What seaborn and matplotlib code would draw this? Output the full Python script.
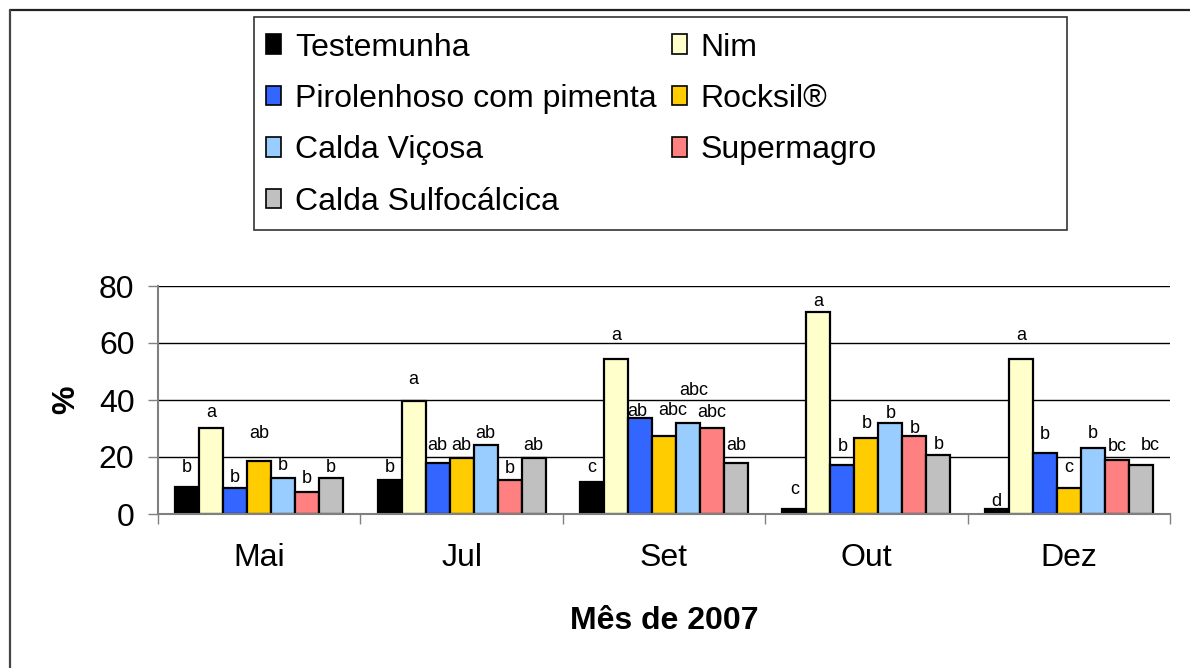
import pandas as pd
import numpy as np
import matplotlib.pyplot as plt
import seaborn as sns
from matplotlib.patches import Patch, Rectangle
from matplotlib.lines import Line2D

# ============================
# Data
# ============================

MONTHS = ["Mai", "Jul", "Set", "Out", "Dez"]

TREATMENTS = [
    "Testemunha",
    "Nim",
    "Pirolenhoso com pimenta",
    "Rocksil®",
    "Calda Viçosa",
    "Supermagro",
    "Calda Sulfocálcica",
]

testemunha = [9.5, 12.0, 11.3, 1.6, 1.6]
nim = [30.2, 39.6, 54.4, 70.8, 54.4]
pirolenhoso = [9.1, 17.8, 33.6, 17.1, 21.5]
rocksil = [18.7, 19.6, 27.5, 26.7, 9.2]
calda_vicosa = [12.7, 24.1, 31.8, 31.8, 23.2]
supermagro = [7.6, 11.8, 30.2, 27.5, 18.8]
sulfocalcica = [12.7, 19.6, 17.9, 20.6, 17.2]

letters_testemunha = ["b", "b", "c", "c", "d"]
letters_nim = ["a", "a", "a", "a", "a"]
letters_pirolenhoso = ["b", "ab", "ab", "b", "b"]
letters_rocksil = ["ab", "ab", "abc", "b", "c"]
letters_vicosa = ["b", "ab", "abc", "b", "b"]
letters_supermagro = ["b", "b", "abc", "b", "bc"]
letters_sulfocalcica = ["b", "ab", "ab", "b", "bc"]

COLORS = ["#000000", "#FFFFCC", "#3366FF", "#FFCC00", "#99CCFF", "#FF8080", "#C0C0C0"]

# how far (pixels) each letter sits above its bar, per treatment and month
LETTER_RAISE = [
    [19, 12, 14, 20, 8],
    [15, 22, 23, 11, 23],
    [11, 18, 7, 19, 18],
    [27, 13, 25, 14, 20],
    [12, 12, 33, 10, 14],
    [14, 12, 15, 7, 14],
    [10, 13, 17, 11, 19],
]
# a few letters sit a bit to the side in the original: (treatment, month) -> px
LETTER_SHIFT = {(2, 2): -3, (3, 2): 9, (4, 2): 6, (6, 4): 10}

series = [testemunha, nim, pirolenhoso, rocksil, calda_vicosa, supermagro, sulfocalcica]
letters = [letters_testemunha, letters_nim, letters_pirolenhoso, letters_rocksil,
           letters_vicosa, letters_supermagro, letters_sulfocalcica]

df = pd.DataFrame({
    "Mes": MONTHS * len(TREATMENTS),
    "Tratamento": np.repeat(TREATMENTS, len(MONTHS)),
    "Valor": np.concatenate(series),
})

# ============================
# Figure
# ============================

sns.set_style("white")
plt.rcParams["font.family"] = ["Liberation Sans", "DejaVu Sans"]
plt.rcParams["text.color"] = "black"
plt.rcParams["axes.labelcolor"] = "black"
plt.rcParams["xtick.color"] = "black"
plt.rcParams["ytick.color"] = "black"

fig = plt.figure(figsize=(11.9, 6.68), dpi=100)
ax = fig.add_axes([158 / 1190, 1 - 514 / 668, 1012 / 1190, 228 / 668])

sns.barplot(
    data=df, x="Mes", y="Valor", hue="Tratamento",
    order=MONTHS, hue_order=TREATMENTS, palette=COLORS,
    saturation=1, errorbar=None, width=0.83,
    edgecolor="black", linewidth=1.6, ax=ax, legend=False,
)

# significance letters
for i, (cont, labs, raise_px) in enumerate(zip(ax.containers, letters, LETTER_RAISE)):
    for j, (bar, lab, dy) in enumerate(zip(cont, labs, raise_px)):
        ax.annotate(
            lab,
            xy=(bar.get_x() + bar.get_width() / 2, bar.get_height()),
            xytext=(LETTER_SHIFT.get((i, j), 0), dy), textcoords="offset pixels",
            ha="center", va="center", fontsize=13, color="black",
        )

ax.set_ylim(0, 80)
ax.set_xlim(-0.5, 4.5)
ax.set_yticks([0, 20, 40, 60, 80])
ax.yaxis.grid(True, color="black", linewidth=1)
ax.set_axisbelow(True)

for side in ["top", "right"]:
    ax.spines[side].set_visible(False)
for side in ["left", "bottom"]:
    ax.spines[side].set_color("#808080")
    ax.spines[side].set_linewidth(1.5)

ax.tick_params(axis="y", left=True, length=7, width=1, color="#808080",
               labelcolor="black", pad=10, labelsize=23)
ax.tick_params(axis="x", which="major", length=0, pad=21, labelsize=23,
               labelcolor="black")
ax.set_xticks(np.arange(-0.5, 5, 1), minor=True)
ax.tick_params(axis="x", which="minor", bottom=True, length=7, width=1, color="#808080")

ax.set_xlabel("Mês de 2007", fontsize=23, fontweight="bold", color="black")
ax.xaxis.set_label_coords(0.5, -0.402)
ax.set_ylabel("%", fontsize=23, fontweight="bold", color="black")
ax.yaxis.set_label_coords(-0.076, 0.5)

# ============================
# Legend (row-wise order)
# ============================

handles = [Patch(facecolor=c, edgecolor="black", linewidth=1.2) for c in COLORS]
idx = [0, 2, 4, 6, 1, 3, 5]
fig.legend(
    [handles[i] for i in idx], [TREATMENTS[i] for i in idx],
    ncol=2, loc="upper left", bbox_to_anchor=(266 / 1190, 1 - 32.5 / 668),
    frameon=False, fontsize=23, handlelength=0.47, handleheight=0.56,
    handletextpad=0.44, columnspacing=0.47, labelspacing=0.67,
    borderpad=0, borderaxespad=0,
)

fig.patches.append(Rectangle((254 / 1190, 1 - 230 / 668), 813 / 1190, 213 / 668,
                             transform=fig.transFigure, fill=False,
                             edgecolor="#333333", linewidth=1.2))

# outer frame (top and left edges visible)
fig.lines.append(Line2D([10 / 1190, 1], [1 - 10 / 668, 1 - 10 / 668],
                        transform=fig.transFigure, color="#222222", linewidth=1.6))
fig.lines.append(Line2D([10 / 1190, 10 / 1190], [0, 1 - 10 / 668],
                        transform=fig.transFigure, color="#444444", linewidth=1.6))

fig.savefig("out.png", dpi=100)
plt.close()
